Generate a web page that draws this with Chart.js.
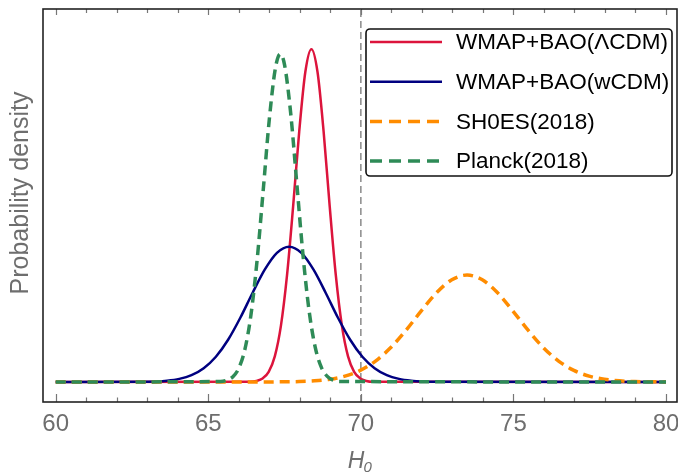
<!DOCTYPE html>
<html lang="en">
<head>
    <meta charset="UTF-8">
    <title>H0 probability density</title>
    <script src="https://cdn.jsdelivr.net/npm/chart.js"></script>
    <style>
        body { margin: 0; background: #fff; }
        canvas { display: block; }
    </style>
</head>
<body>
    <canvas id="h0Chart" width="678" height="472"></canvas>

    <script>
        // values
        const seriesNames = ['WMAP+BAO(\u039BCDM)', 'WMAP+BAO(wCDM)', 'SH0ES(2018)', 'Planck(2018)'];

        const xLcdm = [60, 66.38, 66.58, 66.78, 66.98, 67.18, 67.38, 67.58, 67.78, 67.98, 68.18, 68.38,
                       68.58, 68.78, 68.98, 69.18, 69.38, 69.58, 69.78, 69.98, 70.18, 70.38, 80];
        const yLcdm = [0, 0.0006, 0.0024, 0.0079, 0.0229, 0.0578, 0.1265, 0.2401, 0.3952, 0.5642, 0.6985, 0.75,
                       0.6985, 0.5642, 0.3952, 0.2401, 0.1265, 0.0578, 0.0229, 0.0079, 0.0024, 0.0006, 0];

        const xWcdm = [60, 62.85, 63.25, 63.65, 64.05, 64.45, 64.85, 65.25, 65.65, 66.05, 66.45, 66.85, 67.25, 67.65,
                       68.05, 68.45, 68.85, 69.25, 69.65, 70.05, 70.45, 70.85, 71.25, 71.65, 72.05, 72.45, 80];
        const yWcdm = [0, 0.0004, 0.0011, 0.0029, 0.0070, 0.0154, 0.0311, 0.0569, 0.0951, 0.1447, 0.2005, 0.2531, 0.2911, 0.305,
                       0.2911, 0.2531, 0.2005, 0.1447, 0.0951, 0.0569, 0.0311, 0.0154, 0.0070, 0.0029, 0.0011, 0.0004, 0];

        const xShoes = [60, 66.98, 67.48, 67.98, 68.48, 68.98, 69.48, 69.98, 70.48, 70.98, 71.48, 71.98, 72.48, 72.98, 73.48,
                        73.98, 74.48, 74.98, 75.48, 75.98, 76.48, 76.98, 77.48, 77.98, 78.48, 78.98, 79.48, 80];
        const yShoes = [0, 0.0001, 0.0004, 0.0010, 0.0026, 0.0061, 0.0132, 0.0261, 0.0471, 0.0775, 0.1166, 0.1602, 0.2010, 0.2303, 0.241,
                        0.2303, 0.2010, 0.1602, 0.1166, 0.0775, 0.0471, 0.0261, 0.0132, 0.0061, 0.0026, 0.0010, 0.0004, 0.0001];

        const xPlanck = [60, 65.4, 65.6, 65.8, 66.0, 66.2, 66.4, 66.6, 66.8, 67.0, 67.2, 67.36,
                         67.5, 67.7, 67.9, 68.1, 68.3, 68.5, 68.7, 68.9, 69.1, 69.3, 80];
        const yPlanck = [0, 0.001, 0.0037, 0.0114, 0.031, 0.0735, 0.152, 0.2745, 0.4317, 0.5917, 0.7072, 0.739,
                         0.7146, 0.6061, 0.4482, 0.289, 0.1624, 0.0796, 0.034, 0.0127, 0.0041, 0.0012, 0];

        const xTicks = [60, 65, 70, 75, 80];
        const refLine = 70;

        const xMin = 59.584, xMax = 80.36;
        const yMin = -0.0451, yMax = 0.8405;

        const colors = ['#DC143C', '#000080', '#FF8C00', '#2E8B57'];
        const dashes = [[], [], [10, 6], [10, 6]];
        const widths = [2.5, 2.5, 3.5, 3.5];
        const FONT = '"Liberation Sans", Arial, sans-serif';

        function toPoints(xs, ys) {
            return xs.map((x, i) => ({ x: x, y: ys[i] }));
        }

        const curves = [
            toPoints(xLcdm, yLcdm),
            toPoints(xWcdm, yWcdm),
            toPoints(xShoes, yShoes),
            toPoints(xPlanck, yPlanck)
        ];

        // draw order: Planck on top, then SH0ES, wCDM, LCDM
        const drawOrder = [3, 2, 1, 0];

        const datasets = curves.map((pts, i) => ({
            label: seriesNames[i],
            data: pts,
            borderColor: colors[i],
            borderWidth: widths[i],
            borderDash: dashes[i],
            pointRadius: 0,
            fill: false,
            cubicInterpolationMode: 'monotone',
            order: drawOrder[i]
        }));

        // grey dashed reference line at H0 = 70
        datasets.push({
            label: 'ref',
            data: [{ x: refLine, y: yMin }, { x: refLine, y: yMax }],
            borderColor: '#8a8a8a',
            borderWidth: 1.5,
            borderDash: [7, 4],
            pointRadius: 0,
            order: 10
        });

        // frame, inward ticks, axis titles and the boxed legend
        const decorations = {
            id: 'decorations',
            afterDraw(chart) {
                const ctx = chart.ctx;
                const area = chart.chartArea;
                const xs = chart.scales.x;

                ctx.save();

                // ticks on bottom and top edges
                ctx.strokeStyle = '#777';
                ctx.lineWidth = 1.2;
                for (let v = 60; v <= 80; v++) {
                    const px = Math.round(xs.getPixelForValue(v)) + 0.5;
                    const major = xTicks.includes(v);
                    ctx.beginPath();
                    ctx.moveTo(px, area.bottom);
                    ctx.lineTo(px, area.bottom - (major ? 8 : 4.5));
                    ctx.moveTo(px, area.top);
                    ctx.lineTo(px, area.top + (major ? 6 : 4));
                    ctx.stroke();
                }

                // frame
                ctx.strokeStyle = '#222';
                ctx.lineWidth = 1.6;
                ctx.strokeRect(area.left, area.top, area.right - area.left, area.bottom - area.top);

                // y title
                ctx.fillStyle = '#6e6e6e';
                ctx.font = '25px ' + FONT;
                ctx.textAlign = 'center';
                ctx.textBaseline = 'middle';
                ctx.translate(21, 193);
                ctx.rotate(-Math.PI / 2);
                ctx.fillText('Probability density', 0, 0);
                ctx.setTransform(1, 0, 0, 1, 0, 0);

                // x title H_0
                const hx = xs.getPixelForValue(refLine) - 13;
                ctx.textAlign = 'left';
                ctx.textBaseline = 'alphabetic';
                ctx.font = 'italic 23px ' + FONT;
                ctx.fillText('H', hx, 468);
                const hw = ctx.measureText('H').width;
                ctx.font = 'italic 15px ' + FONT;
                ctx.fillText('0', hx + hw - 1, 472);

                // legend box
                const bx = 366, by = 29, bw = 306, bh = 147;
                ctx.beginPath();
                ctx.roundRect(bx, by, bw, bh, 4);
                ctx.fillStyle = '#fff';
                ctx.fill();
                ctx.strokeStyle = '#111';
                ctx.lineWidth = 1.6;
                ctx.stroke();

                ctx.font = '22.5px ' + FONT;
                ctx.textBaseline = 'middle';
                seriesNames.forEach((name, i) => {
                    const ry = by + 13 + i * 39.7;
                    ctx.beginPath();
                    ctx.strokeStyle = colors[i];
                    ctx.lineWidth = widths[i];
                    ctx.setLineDash(i >= 2 ? [12, 7] : []);
                    ctx.moveTo(bx + 4, ry);
                    ctx.lineTo(bx + 76, ry);
                    ctx.stroke();
                    ctx.setLineDash([]);
                    ctx.fillStyle = '#000';
                    ctx.fillText(name, bx + 90, ry + 1);
                });

                ctx.restore();
            }
        };

        new Chart(document.getElementById('h0Chart'), {
            type: 'line',
            data: { datasets: datasets },
            options: {
                responsive: false,
                animation: false,
                layout: { padding: { top: 9, right: 1, left: 0, bottom: 0 } },
                plugins: {
                    legend: { display: false },
                    tooltip: { enabled: false }
                },
                scales: {
                    x: {
                        type: 'linear',
                        min: xMin,
                        max: xMax,
                        grid: { display: false },
                        border: { display: false },
                        afterBuildTicks: scale => { scale.ticks = xTicks.map(v => ({ value: v })); },
                        afterFit: scale => {
                            scale.height = 70;
                            scale.paddingLeft = 0;
                            scale.paddingRight = 0;
                        },
                        ticks: {
                            autoSkip: false,
                            maxRotation: 0,
                            padding: 0,
                            color: '#6e6e6e',
                            font: { size: 24, family: FONT }
                        }
                    },
                    y: {
                        type: 'linear',
                        min: yMin,
                        max: yMax,
                        grid: { display: false },
                        border: { display: false },
                        ticks: { display: false },
                        afterFit: scale => { scale.width = 43; }
                    }
                }
            },
            plugins: [decorations]
        });
    </script>
</body>
</html>
